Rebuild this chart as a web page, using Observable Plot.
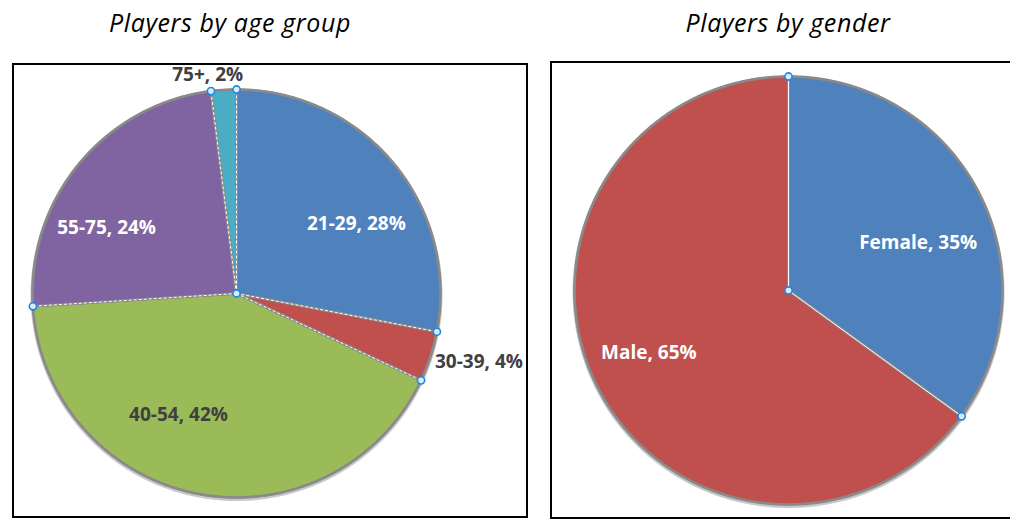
<!DOCTYPE html>
<html>
<head>
<meta charset="utf-8">
<script src="https://cdn.jsdelivr.net/npm/d3@7"></script>
<script src="https://cdn.jsdelivr.net/npm/@observablehq/plot@0.6"></script>
<style>
  html, body { margin: 0; padding: 0; background: #fff; }
  #page { position: relative; width: 1010px; height: 519px; overflow: hidden; font-family: "Open Sans", sans-serif; }
  .title { position: absolute; top: 5px; font-style: italic; font-size: 25px; letter-spacing: 0.6px; line-height: 34px; color: #000; transform: translateX(-50%); white-space: nowrap; }
  .box { position: absolute; border: 2px solid #000; box-sizing: border-box; }
  .plot { position: absolute; }
  .plot svg { overflow: visible; }
</style>
</head>
<body>
<div id="page">
  <div class="title" style="left:230px">Players by age group</div>
  <div class="title" style="left:788px">Players by gender</div>
  <div class="box" style="left:12px;top:63px;width:516px;height:455px"></div>
  <div class="box" style="left:550px;top:61px;width:480px;height:458px"></div>
  <div class="plot" id="left" style="left:13px;top:64px"></div>
  <div class="plot" id="right" style="left:551px;top:62px"></div>
</div>
<script>
// ---- data ----
const ageGroups = ["21-29", "30-39", "40-54", "55-75", "75+"];
const agePercents = [28, 4, 42, 24, 2];
const genders = ["Female", "Male"];
const genderPercents = [35, 65];

// ---- styling ----
const ageColors = ["#4F81BD", "#C0504D", "#9BBB59", "#8064A2", "#4BACC6"];
const genderColors = ["#4F81BD", "#C0504D"];
const darkText = "#404040";

function pieGeometry(cats, vals) {
  const total = d3.sum(vals);
  let acc = 0;
  const slices = cats.map((c, i) => {
    const a0 = acc / total * 2 * Math.PI;
    acc += vals[i];
    const a1 = acc / total * 2 * Math.PI;
    return {key: c, value: vals[i], a0, a1, mid: (a0 + a1) / 2};
  });
  const poly = [];
  for (const s of slices) {
    poly.push({key: s.key, x: 0, y: 0});
    const n = Math.max(2, Math.ceil((s.a1 - s.a0) / (Math.PI / 360)));
    for (let j = 0; j <= n; j++) {
      const a = s.a0 + (s.a1 - s.a0) * j / n;
      poly.push({key: s.key, x: Math.sin(a), y: Math.cos(a)});
    }
    poly.push({key: s.key, x: 0, y: 0});
  }
  const bounds = slices.map(s => ({x: Math.sin(s.a0), y: Math.cos(s.a0)}));
  return {slices, poly, bounds};
}

function drawPie({cats, vals, colors, W, H, cx, cy, r, labelStyle, dashed}) {
  const g = pieGeometry(cats, vals);
  const labels = g.slices.map(s => {
    const st = labelStyle[s.key];
    const k = st.k;
    return {
      key: s.key,
      text: `${s.key}, ${s.value}%`,
      x: k * Math.sin(s.mid) + st.dx / r,
      y: k * Math.cos(s.mid) - st.dy / r,
      fill: st.fill
    };
  });
  const handles = g.bounds.concat([{x: 0, y: 0}]);
  const outline = d3.range(0, 361, 1).map(d => ({x: Math.sin(d * Math.PI / 180), y: Math.cos(d * Math.PI / 180)}));
  return Plot.plot({
    width: W, height: H, margin: 0,
    x: {domain: [-cx / r, (W - cx) / r], axis: null},
    y: {domain: [-(H - cy) / r, cy / r], axis: null},
    color: {domain: cats, range: colors},
    style: {background: "transparent", overflow: "visible"},
    marks: [
      Plot.line(outline, {x: "x", y: "y", stroke: "#c8c8c8", strokeWidth: 4, dy: 1.5}),
      Plot.line(g.poly, {x: "x", y: "y", z: "key", fill: "key", stroke: "#8a8a8a", strokeWidth: 2.6, strokeLinejoin: "round"}),
      Plot.link(g.bounds, {x1: () => 0, y1: () => 0, x2: "x", y2: "y", stroke: "#ffffff", strokeWidth: 1, strokeDasharray: dashed ? "3,2" : null}),
      Plot.line(outline, {x: "x", y: "y", stroke: "#8a8a8a", strokeWidth: 1.8}),
      Plot.dot(handles, {x: "x", y: "y", r: 3.6, fill: "#d8ecfb", stroke: "#1f87e0", strokeWidth: 1.6}),
      Plot.text(labels, {x: "x", y: "y", text: "text", fill: d => d.fill, fontSize: 19, fontWeight: "bold", fontFamily: "Open Sans", textAnchor: "middle"})
    ]
  });
}

document.getElementById("left").append(drawPie({
  cats: ageGroups, vals: agePercents, colors: ageColors,
  W: 514, H: 454, cx: 223, cy: 229, r: 204, dashed: true,
  labelStyle: {
    "21-29": {k: 0.68, dx: 13, dy: 19, fill: "#ffffff"},
    "30-39": {k: 1.1, dx: 29, dy: -1, fill: darkText},
    "40-54": {k: 0.68, dx: -32, dy: -15, fill: darkText},
    "55-75": {k: 0.68, dx: -23, dy: 23, fill: "#ffffff"},
    "75+":   {k: 1.08, dx: -15, dy: 1, fill: darkText}
  }
}));

document.getElementById("right").append(drawPie({
  cats: genders, vals: genderPercents, colors: genderColors,
  W: 459, H: 457, cx: 237, cy: 228, r: 214, dashed: false,
  labelStyle: {
    "Female": {k: 0.68, dx: 0, dy: 18, fill: "#ffffff"},
    "Male":   {k: 0.68, dx: -10, dy: -4, fill: "#ffffff"}
  }
}));
</script>
</body>
</html>
